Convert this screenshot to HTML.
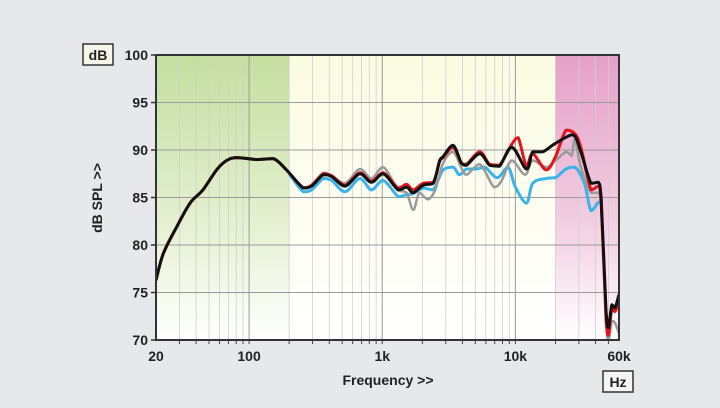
<!DOCTYPE html>
<html><head><meta charset="utf-8"><style>
body{margin:0;background:#e6e8eb;}
svg{display:block;font-family:"Liberation Sans",sans-serif;}
</style></head><body>
<svg id="c" width="720" height="408">
<defs>
<linearGradient id="gG" x1="0" y1="0" x2="0" y2="1"><stop offset="0" stop-color="#c5de9f"/><stop offset="0.55" stop-color="#e2efcd"/><stop offset="1" stop-color="#ffffff"/></linearGradient>
<linearGradient id="gY" x1="0" y1="0" x2="0" y2="1"><stop offset="0" stop-color="#fbfbe2"/><stop offset="1" stop-color="#ffffff"/></linearGradient>
<linearGradient id="gP" x1="0" y1="0" x2="0" y2="1"><stop offset="0" stop-color="#e5a0c8"/><stop offset="0.6" stop-color="#f2cfe2"/><stop offset="1" stop-color="#ffffff"/></linearGradient>
</defs>
</svg>
<script>
const yTicks=[70,75,80,85,90,95,100];
const xTickVals=[20,100,1000,10000,60000];
const xTickLabels=["20","100","1k","10k","60k"];
const bandEdges=[20,200,20000,60000];
const blackF=[20,22.7,28.6,36,45,57,68,81,114,152,191,255,295,361,417,525,680,830,1017,1318,1523,1710,2032,2415,2700,2860,3400,3940,4300,5400,6400,7600,9400,12100,13500,16000,20000,27000,31000,37000,42000,44000,48000,50000,53000,56000,60000];
const blackV=[76.3,79.1,81.9,84.4,85.8,87.9,88.9,89.2,89.0,89.1,87.9,86.0,86.2,87.4,87.2,86.2,87.5,86.6,87.5,85.8,86.1,85.5,86.3,86.5,88.9,89.3,90.5,88.6,88.4,89.6,88.4,88.3,90.3,88.0,89.8,89.8,90.7,91.6,89.8,86.5,86.6,85.0,73.0,71.3,73.7,73.4,74.8];
const redF=[20,22.7,28.6,36,45,57,68,81,114,152,191,255,295,361,417,525,680,830,1017,1318,1523,1710,2032,2415,2700,2860,3400,3940,4300,5400,6400,7600,9400,10500,12100,13500,17000,20000,24000,28000,31000,37000,42000,44000,48000,50000,53000,56000,60000];
const redV=[76.3,79.1,81.9,84.4,85.8,87.9,88.9,89.2,89.0,89.1,87.9,86.0,86.3,87.5,87.3,86.3,87.6,86.7,87.6,86.0,86.4,85.8,86.5,86.6,88.8,89.2,90.3,88.6,88.5,89.8,88.5,88.4,90.6,91.3,88.3,89.6,87.9,89.3,92.1,91.7,90.3,85.8,86.2,84.8,72.0,70.5,73.3,73.0,74.0];
const grayF=[20,22.7,28.6,36,45,57,68,81,114,152,191,255,295,361,417,525,680,830,1017,1318,1523,1710,1900,2200,2500,2860,3400,3940,4300,5400,6900,7900,9400,11800,13500,17000,20000,24000,26500,28000,31000,37000,42000,44000,48000,50000,53000,56000,60000];
const grayV=[76.3,79.1,81.9,84.4,85.8,87.9,88.9,89.2,89.0,89.1,87.9,86.1,86.3,87.6,87.3,86.5,88.0,87.0,88.2,85.8,85.5,83.7,85.5,84.8,85.8,88.6,89.8,88.1,87.4,88.5,86.1,86.8,88.9,87.4,88.9,88.2,88.9,89.8,89.4,91.2,88.2,85.5,85.5,84.0,72.0,70.0,72.0,71.8,70.7];
const blueF=[200,255,295,361,417,525,680,830,1017,1318,1523,1710,2032,2415,2860,3400,3800,4300,5100,5900,7300,8800,10000,12100,13500,17000,20000,24000,28000,33000,37000,42000,45000];
const blueV=[87.5,85.6,85.8,87.0,86.8,85.6,87.0,85.8,86.8,85.1,85.3,85.4,86.0,85.8,87.9,88.2,87.4,88.0,88.0,88.2,87.1,88.2,86.1,84.4,86.5,87.0,87.1,88.0,88.2,86.5,83.6,84.5,84.5];

const svg=document.getElementById('c');const NS='http://www.w3.org/2000/svg';
const L=156,R=619,T=55,B=340;
const lx0=Math.log10(20),lx1=Math.log10(60000);
const xs=f=>L+(Math.log10(f)-lx0)/(lx1-lx0)*(R-L);
const ys=v=>T+(100-v)/30*(B-T);
function mk(t,a,p){const e=document.createElementNS(NS,t);for(const k in a)e.setAttribute(k,a[k]);(p||svg).appendChild(e);return e;}
const fills=['url(#gG)','url(#gY)','url(#gP)'];const bnames=['bass-band','midrange-band','ultrasonic-band'];
for(let i=0;i<3;i++){const r=mk('rect',{x:xs(bandEdges[i]),y:T,width:xs(bandEdges[i+1])-xs(bandEdges[i]),height:B-T,fill:fills[i]});

}
const minors=[];for(let d=10;d<=10000;d*=10)for(let m=1;m<10;m++){const f=d*m;if(f>20&&f<60000)minors.push(f);}
minors.forEach(f=>{const major=[100,1000,10000].includes(f);const l=mk('line',{x1:xs(f),x2:xs(f),y1:T,y2:B,stroke:major?'#9a9a9a':'#cfcfcf','stroke-width':major?1:0.8});


const tk=mk('line',{x1:xs(f),x2:xs(f),y1:B,y2:B+4,stroke:'#444','stroke-width':1});

});
yTicks.forEach(v=>{const l=mk('line',{x1:L,x2:R,y1:ys(v),y2:ys(v),stroke:'#9a9a9a','stroke-width':1});


const tk=mk('line',{x1:L-5,x2:L,y1:ys(v),y2:ys(v),stroke:'#333','stroke-width':1.5});


const t=mk('text',{x:L-8,y:ys(v)+5,'text-anchor':'end','font-size':14,'font-weight':'bold',fill:'#222'});t.textContent=v;

});
xTickVals.forEach((f,i)=>{const t=mk('text',{x:xs(f),y:361,'text-anchor':'middle','font-size':14,'font-weight':'bold',fill:'#222'});t.textContent=xTickLabels[i];

});
function path(F,V){const p=F.map((f,i)=>[xs(f),ys(V[i])]);let d='M'+p[0][0].toFixed(1)+','+p[0][1].toFixed(1);
const cl=(v,a,b)=>Math.min(Math.max(v,Math.min(a,b)),Math.max(a,b));
for(let i=0;i<p.length-1;i++){const p0=p[Math.max(0,i-1)],p1=p[i],p2=p[i+1],p3=p[Math.min(p.length-1,i+2)];const k=1/6;
const c1y=cl(p1[1]+(p2[1]-p0[1])*k,p1[1],p2[1]),c2y=cl(p2[1]-(p3[1]-p1[1])*k,p1[1],p2[1]);
d+=' C'+(p1[0]+(p2[0]-p0[0])*k).toFixed(1)+','+c1y.toFixed(1)+' '+(p2[0]-(p3[0]-p1[0])*k).toFixed(1)+','+c2y.toFixed(1)+' '+p2[0].toFixed(1)+','+p2[1].toFixed(1);}return d;}
const clip=mk('clipPath',{id:'pc'});mk('rect',{x:L,y:T,width:R-L,height:B-T},clip);
const g=mk('g',{'clip-path':'url(#pc)'});
const b=mk('path',{d:path(blueF,blueV),fill:'none',stroke:'#3ab4e8','stroke-width':3,'stroke-linejoin':'round'},g);


const gr=mk('path',{d:path(grayF,grayV),fill:'none',stroke:'#9a9a9a','stroke-width':2.5,'stroke-linejoin':'round'},g);


const rd=mk('path',{d:path(redF,redV),fill:'none',stroke:'#e0161c','stroke-width':3,'stroke-linejoin':'round'},g);


const bk=mk('path',{d:path(blackF,blackV),fill:'none',stroke:'#111','stroke-width':3,'stroke-linejoin':'round'},g);


const fr=mk('rect',{x:L,y:T,width:R-L,height:B-T,fill:'none',stroke:'#333','stroke-width':2});


const db=mk('g',{});
mk('rect',{x:83,y:44,width:30,height:21,fill:'#f5f5e8',stroke:'#333','stroke-width':1.5},db);
const dt=mk('text',{x:98,y:60,'text-anchor':'middle','font-size':14,'font-weight':'bold',fill:'#222'},db);dt.textContent='dB';
const hz=mk('g',{});
mk('rect',{x:603,y:371,width:30,height:21,fill:'#f5f5f5',stroke:'#333','stroke-width':1.5},hz);
const ht=mk('text',{x:618,y:387,'text-anchor':'middle','font-size':14,'font-weight':'bold',fill:'#222'},hz);ht.textContent='Hz';
const yt=mk('text',{x:0,y:0,transform:'translate(102,198) rotate(-90)','text-anchor':'middle','font-size':14,'font-weight':'bold',fill:'#222'});yt.textContent='dB SPL >>';


const xt=mk('text',{x:388,y:385,'text-anchor':'middle','font-size':14,'font-weight':'bold',fill:'#222'});xt.textContent='Frequency >>';


</script>
</body></html>
